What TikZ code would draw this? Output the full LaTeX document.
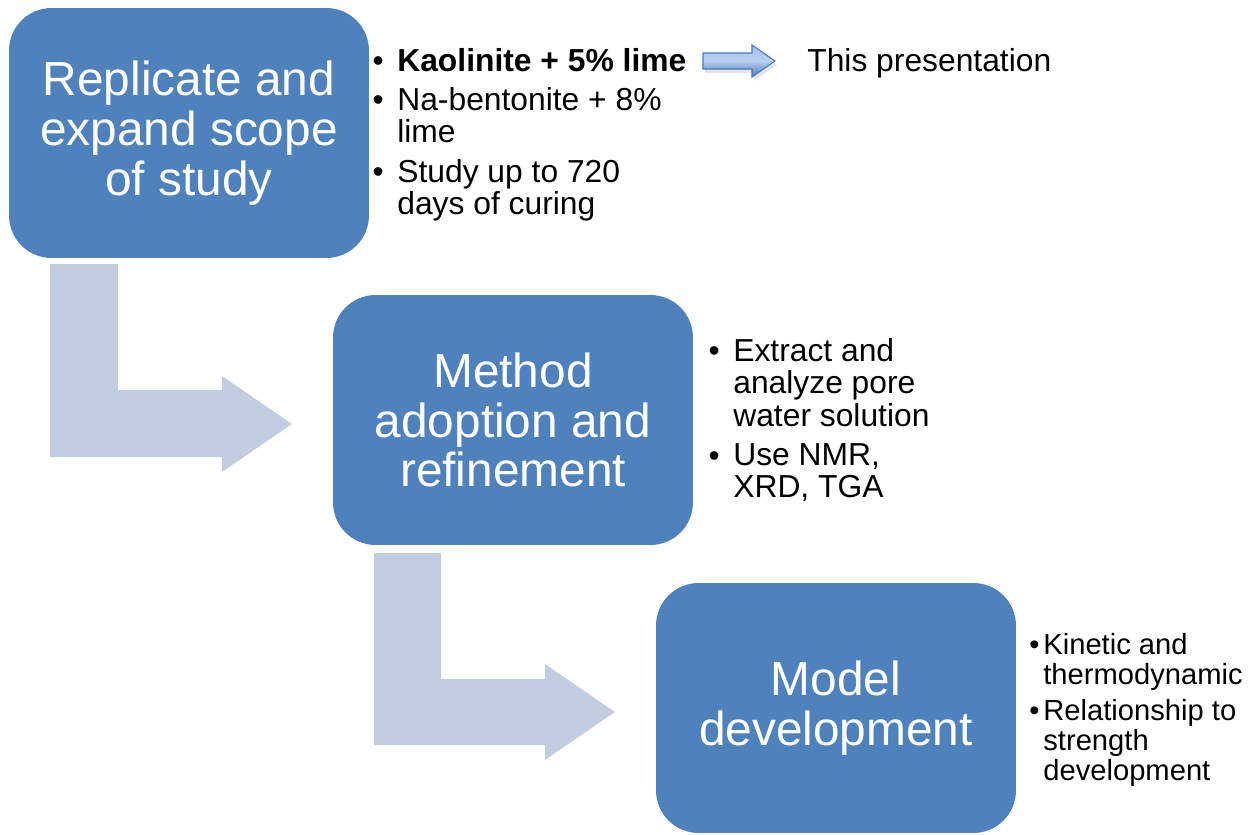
\documentclass[tikz,border=0pt]{standalone}
\usepackage{fontspec}
\setmainfont{Liberation Sans}

\definecolor{boxblue}{RGB}{79,129,189}
\definecolor{flowgray}{RGB}{195,205,226}
\definecolor{arrowtop}{RGB}{165,195,238}
\definecolor{arrowbot}{RGB}{72,120,186}

\newcommand{\notefont}{\fontsize{18.1}{18.5}\selectfont}
\newcommand{\smallnotefont}{\fontsize{16.6}{17}\selectfont}
\newcommand{\dotmark}{\vphantom{dl}\textbullet}

\tikzset{
  stage/.style={rectangle, rounded corners=0.85cm, fill=boxblue, text=white,
                minimum width=7.2cm, minimum height=5cm, align=center,
                font=\fontsize{27.2}{28.4}\selectfont},
  item/.style={anchor=north west, inner sep=0pt, align=left, font=\notefont,
               label={[anchor=north east, inner sep=0pt, xshift=-#1, font=\notefont]north west:\dotmark}},
  item/.default=0.26cm,
  smallitem/.style={anchor=north west, inner sep=0pt, align=left, font=\smallnotefont,
               label={[anchor=north east, inner sep=0pt, xshift=-#1, font=\smallnotefont]north west:\dotmark}},
  smallitem/.default=0.06cm,
  flow/.style={fill=flowgray},
}

\begin{document}
\begin{tikzpicture}[x=0.02cm, y=-0.02cm]

    \useasboundingbox (0,0) rectangle (1249,835);

    % bent arrows between the stages
    \fill[flow] (50,264) -- (118,264) -- (118,390) -- (222,390) -- (222,376)
        -- (292,424) -- (222,472) -- (222,457) -- (50,457) -- cycle;
    \fill[flow] (374,553) -- (441,553) -- (441,679) -- (545,679) -- (545,664)
        -- (615,712) -- (545,760) -- (545,745) -- (374,745) -- cycle;

    % stages
    \node[stage] (scope) at (189,133) {Replicate and\\expand scope\\of study};
    \node[stage] (method) at (513,420) {Method\\adoption and\\refinement};
    \node[stage] (model) at (836,708) {Model\\development};

    % stage 1 notes
    \node[item] (kaolin) at (397,48) {\textbf{Kaolinite + 5\% lime}};
    \node[item] (bento) at (397,87) {Na-bentonite + 8\%\\lime};
    \node[item] (curing) at (397,159) {Study up to 720\\days of curing};
    \node[anchor=north west, inner sep=0pt, font=\notefont]
        (talk) at (807,48) {This presentation};

    % small arrow kaolinite -> presentation
    \fill[gray!35, opacity=0.6] (705,57) -- (754,57) -- (754,49) -- (777,65)
        -- (754,81) -- (754,73) -- (705,73) -- cycle;
    \shade[top color=arrowtop, bottom color=arrowbot, middle color=arrowtop!80!white,
           draw=arrowbot, line width=0.6pt]
        (703,53) -- (752,53) -- (752,45) -- (775,61) -- (752,77) -- (752,69) -- (703,69) -- cycle;

    % stage 2 notes
    \node[item] (pore) at (733,338) {Extract and\\analyze pore\\water solution};
    \node[item] (nmr) at (733,443) {Use NMR,\\XRD, TGA};

    % stage 3 notes
    \node[smallitem] (kinetic) at (1043,633) {Kinetic and\\thermodynamic};
    \node[smallitem] (strength) at (1043,699) {Relationship to\\strength\\development};

\end{tikzpicture}
\end{document}
